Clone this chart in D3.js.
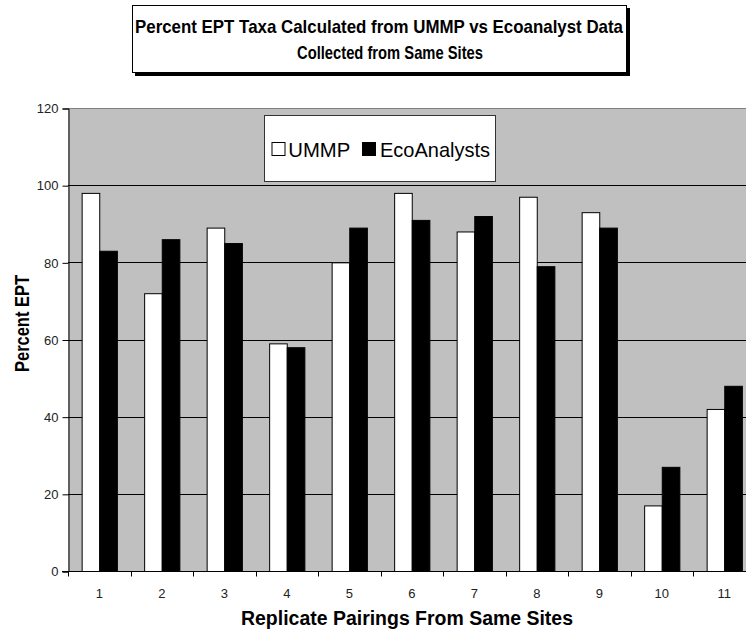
<!DOCTYPE html>
<html><head><meta charset="utf-8">
<script src="https://cdn.jsdelivr.net/npm/d3@7"></script>
<style>body{margin:0;background:#fff}svg{display:block}</style>
</head><body>
<script>
const categories = ["1","2","3","4","5","6","7","8","9","10","11"];
const ummp = [98,72,89,59,80,98,88,97,93,17,42];
const ecoAnalysts = [83,86,85,58,89,91,92,79,89,27,48];
const seriesNames = ["UMMP","EcoAnalysts"];
const yTicks = [0,20,40,60,80,100,120];
const titleLines = ["Percent EPT Taxa Calculated from UMMP vs Ecoanalyst Data","Collected from Same Sites"];
const xTitle = "Replicate Pairings From Same Sites";
const yTitle = "Percent EPT";

(function(){
const W = 746, H = 631;
const pLeft = 68, pTop = 108, pBottom = 571, step = 62.5;
const svg = d3.select("body").append("svg").attr("width",W).attr("height",H)
  .style("font-family","'Liberation Sans', Arial, sans-serif");

const x = d3.scaleBand().domain(categories).range([pLeft, pLeft + step*categories.length]).padding(0);
const xs = d3.scaleBand().domain(seriesNames).range([0, x.bandwidth()]).paddingInner(0).paddingOuter(0.775);
const y = d3.scaleLinear().domain([0,120]).range([pBottom, pTop]);

// plot area
svg.append("rect").attr("x",pLeft).attr("y",pTop).attr("width",W-pLeft+10).attr("height",pBottom-pTop)
  .attr("fill","#c0c0c0");
svg.append("line").attr("x1",pLeft).attr("x2",W).attr("y1",pTop+0.5).attr("y2",pTop+0.5).attr("stroke","#808080");

// gridlines
svg.append("g").selectAll("line").data(yTicks.filter(d=>d>0 && d<120)).join("line")
  .attr("x1",pLeft).attr("x2",W).attr("y1",d=>Math.round(y(d))+0.5).attr("y2",d=>Math.round(y(d))+0.5)
  .attr("stroke","#000").attr("stroke-width",1);

// bars
const data = categories.map((c,i)=>({c, vals:[{s:"UMMP",v:ummp[i]},{s:"EcoAnalysts",v:ecoAnalysts[i]}]}));
const g = svg.append("g");
g.selectAll("g").data(data).join("g").attr("transform",d=>`translate(${x(d.c)},0)`)
  .selectAll("rect").data(d=>d.vals).join("rect")
  .attr("x",d=>xs(d.s)+0.5).attr("y",d=>y(d.v)+0.5).attr("width",xs.bandwidth()).attr("height",d=>pBottom-y(d.v))
  .attr("fill",d=>d.s==="UMMP"?"#fff":"#000").attr("stroke","#000").attr("stroke-width",1);

// y axis
const yAxis = d3.axisLeft(y).tickValues(yTicks).tickSize(6).tickPadding(4);
const ya = svg.append("g").attr("transform",`translate(${pLeft+0.5},0.5)`).call(yAxis);
ya.select(".domain").attr("stroke","#000");
ya.selectAll("line").attr("stroke","#000");
ya.selectAll("text").attr("font-size","13px").attr("fill","#222").attr("font-family","'Liberation Sans', Arial, sans-serif");

// x axis
const xa = svg.append("g").attr("transform",`translate(0,${pBottom+0.5})`);
xa.append("line").attr("x1",pLeft-6).attr("x2",W).attr("y1",0).attr("y2",0).attr("stroke","#000");
xa.selectAll("line.t").data(categories.concat(["end"])).join("line").attr("class","t")
  .attr("x1",(d,i)=>Math.round(pLeft+i*step)+0.5).attr("x2",(d,i)=>Math.round(pLeft+i*step)+0.5)
  .attr("y1",0).attr("y2",5).attr("stroke","#000");
xa.selectAll("text").data(categories).join("text")
  .attr("x",d=>x(d)+x.bandwidth()/2).attr("y",26).attr("text-anchor","middle")
  .attr("font-size","13px").attr("fill","#222").text(d=>d);

// axis titles
svg.append("text").attr("x",241).attr("y",625)
  .attr("font-size","19.5px").attr("font-weight","bold")
  .attr("textLength",332).attr("lengthAdjust","spacingAndGlyphs").text(xTitle);
svg.append("text").attr("transform",`translate(28.5,372) rotate(-90)`)
  .attr("font-size","20px").attr("font-weight","bold")
  .attr("textLength",97).attr("lengthAdjust","spacingAndGlyphs").text(yTitle);

// title box
svg.append("rect").attr("x",135).attr("y",8).attr("width",495).attr("height",68).attr("fill","#000");
svg.append("rect").attr("x",132.5).attr("y",5.5).attr("width",494).attr("height",67).attr("fill","#fff").attr("stroke","#000");
const tl = [{t:titleLines[0],x:135,y:33,w:488},{t:titleLines[1],x:297,y:58.5,w:186}];
svg.append("g").selectAll("text").data(tl).join("text")
  .attr("x",d=>d.x).attr("y",d=>d.y)
  .attr("font-size","18.5px").attr("font-weight","bold")
  .attr("textLength",d=>d.w).attr("lengthAdjust","spacingAndGlyphs").text(d=>d.t);

// legend
const lg = svg.append("g");
lg.append("rect").attr("x",264.5).attr("y",115.5).attr("width",231).attr("height",66).attr("fill","#fff").attr("stroke","#333");
const items = [{s:"UMMP",x:271.5,tx:288.3,w:62,fill:"#fff"},{s:"EcoAnalysts",x:362,tx:380,w:110,fill:"#000"}];
lg.selectAll("rect.k").data(items).join("rect").attr("class","k")
  .attr("x",d=>d.x+0.5).attr("y",142.5).attr("width",13).attr("height",13).attr("fill",d=>d.fill).attr("stroke","#000");
lg.selectAll("text").data(items).join("text")
  .attr("x",d=>d.tx).attr("y",156.7).attr("font-size","21px").attr("fill","#000")
  .attr("textLength",d=>d.w).attr("lengthAdjust","spacingAndGlyphs").text(d=>d.s);
})();
</script>
</body></html>
